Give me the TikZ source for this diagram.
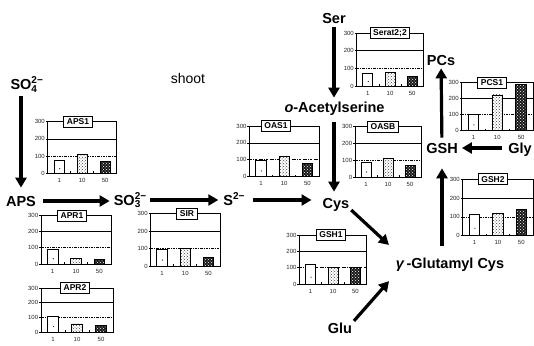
\documentclass[tikz,border=0pt]{standalone}
\usepackage{fontspec}
\setmainfont{Liberation Sans}
\usetikzlibrary{arrows.meta,patterns}
\tikzset{
  mainlbl/.style={font=\fontsize{14.5}{16}\selectfont\bfseries, inner sep=1pt, text height=10.3pt, text depth=0pt},
  flow/.style={line width=3.2pt, -{Triangle[width=11pt,length=10pt]}, shorten <=3pt, shorten >=3pt},
  chartline/.style={line width=0.75pt},
  ticklab/.style={font=\fontsize{6}{7}\selectfont, inner sep=0.5pt, text=black!85},
  charttitle/.style={draw, line width=0.85pt, fill=white, font=\fontsize{8.5}{9}\selectfont\bfseries, inner xsep=3pt, inner ysep=1.5pt, minimum height=11pt},
}
\newcommand{\scr}[1]{{\fontsize{10}{10}\selectfont #1}}
\newcommand{\ionsc}[3]{#1\makebox[0pt][l]{\raisebox{-2.6pt}{\scr{#2}}}\raisebox{6pt}{\scr{#3}}}
\newcommand{\mychart}[9]{%
  \pgfmathsetmacro\cL{#1}\pgfmathsetmacro\cR{#2}%
  \pgfmathsetmacro\cB{#3}\pgfmathsetmacro\cT{#4}%
  \pgfmathsetmacro\cW{\cR-\cL}\pgfmathsetmacro\cU{(\cB-\cT)/300}%
  \pgfmathsetmacro\bw{0.15*\cW}%
  \pgfmathsetmacro\xa{\cL+\cW/6}\pgfmathsetmacro\xb{\cL+\cW/2}\pgfmathsetmacro\xc{\cL+5*\cW/6}%
  \draw[chartline] (\cL,{\cB-200*\cU}) -- (\cR,{\cB-200*\cU});
  \draw[chartline, dash pattern=on 2.5pt off 1.2pt on 0.6pt off 1.2pt] (\cL,{\cB-100*\cU}) -- (\cR,{\cB-100*\cU});
  \draw[chartline, fill=white] ({\xa-\bw/2},\cB) rectangle ({\xa+\bw/2},{\cB-#7*\cU});
  \fill ({\xa+0.5},{\cB-#7*\cU*0.35}) circle (0.6);
  \fill[white] ({\xb-\bw/2},\cB) rectangle ({\xb+\bw/2},{\cB-#8*\cU});
  \fill[pattern=crosshatch dots, pattern color=black!75] ({\xb-\bw/2},\cB) rectangle ({\xb+\bw/2},{\cB-#8*\cU});
  \draw[chartline] ({\xb-\bw/2},\cB) rectangle ({\xb+\bw/2},{\cB-#8*\cU});
  \fill[black!90] ({\xc-\bw/2},\cB) rectangle ({\xc+\bw/2},{\cB-#9*\cU});
  \fill[pattern=crosshatch dots, pattern color=white] ({\xc-\bw/2},\cB) rectangle ({\xc+\bw/2},{\cB-#9*\cU});
  \draw[chartline] ({\xc-\bw/2},\cB) rectangle ({\xc+\bw/2},{\cB-#9*\cU});
  \draw[chartline] (\cL,\cT) rectangle (\cR,\cB);
  \foreach \k in {0,100,200,300} {\draw[chartline] (\cL,{\cB-\k*\cU}) -- ++(-2,0) node[left,ticklab] {\k};}
  \draw[chartline] ({\cL+\cW/3},\cB) -- ++(0,-2);
  \draw[chartline] ({\cL+2*\cW/3},\cB) -- ++(0,-2);
  \node[ticklab] at (\xa,{\cB+7}) {1};
  \node[ticklab] at (\xb,{\cB+7}) {10};
  \node[ticklab] at (\xc,{\cB+7}) {50};
  \node[charttitle] (t#6) at (#6,\cT) {#5};
}
\begin{document}
\begin{tikzpicture}[x=1pt,y=-1pt]
\useasboundingbox (0,0) rectangle (534,345);
\fill[white] (0,0) rectangle (534,345);

% charts: L, R, B, T, title, titleX, v1, v2, v3
\mychart{47.7}{116.7}{173.3}{121.7}{APS1}{78}{77}{109}{72}
\mychart{41}{111}{264}{215.5}{APR1}{72}{93}{35}{30}
\mychart{41}{113}{332}{288}{APR2}{75}{105}{55}{45}
\mychart{150.5}{220}{266}{213.5}{SIR}{187}{97}{98}{50}
\mychart{249.3}{319}{176.7}{126}{OAS1}{276}{97}{122}{80}
\mychart{355}{421}{177}{126.5}{OASB}{383}{85}{112}{72}
\mychart{356.7}{423.3}{86}{33.3}{Serat2;2}{390}{72}{75}{52}
\mychart{461.5}{533}{130.5}{82.5}{PCS1}{492}{100}{222}{287}
\mychart{462.7}{533}{235.7}{179.3}{GSH2}{493}{114}{118}{138}
\mychart{299.3}{366.7}{284.3}{235}{GSH1}{331}{124}{100}{100}

% labels
\node[font=\fontsize{14}{16}\selectfont] (shoot) at (188,78) {shoot};
\node[mainlbl] (so4) at (21,84) {SO\rlap{\makebox[0pt][l]{\raisebox{-3.5pt}{\scr{4}}}\raisebox{6pt}{\scr{2−}}}};
\node[mainlbl] (aps) at (21,201) {APS};
\node[mainlbl] (so3) at (130,200) {\ionsc{SO}{3}{2−}};
\node[mainlbl] (s2) at (234,200) {S\raisebox{6pt}{\scr{2−}}};
\node[mainlbl] (cys) at (336,203) {Cys};
\node[mainlbl] (ser) at (334,18) {Ser};
\node[mainlbl] (oas) at (334.5,107) {\textit{o}-Acetylserine};
\node[mainlbl] (gglu) at (450,263) {\textit{γ}\hspace{2pt}-Glutamyl Cys};
\node[mainlbl] (glu) at (340,328) {Glu};
\node[mainlbl] (gsh) at (442,148) {GSH};
\node[mainlbl] (gly) at (520,148) {Gly};
\node[mainlbl] (pcs) at (441,60) {PCs};

% connectors
\draw[flow, shorten <=6pt, shorten >=7pt] (so4) -- (aps);
\draw[flow, shorten <=6pt, shorten >=3pt] (aps.east) -- (aps.east -| so3.west);
\draw[flow, shorten <=3pt, shorten >=4pt] (so3) -- (s2);
\draw[flow, shorten <=7pt, shorten >=10pt] (s2.east) -- (s2.east -| cys.west);
\draw[flow] (ser) -- (ser |- oas.north);
\draw[flow, shorten <=9pt, shorten >=5pt] (ser |- oas.south) -- (ser |- cys.north);
\draw[flow, shorten <=1pt, shorten >=1pt] (cys.south east) -- ([shift={(-5,-11)}]gglu.north west);
\draw[flow, shorten <=1pt, shorten >=1pt] (glu.north east) -- ([shift={(-5,11)}]gglu.south west);
\draw[flow, shorten <=11pt, shorten >=14pt] (gglu.north -| gsh) -- (gsh);
\draw[flow, shorten <=5pt, shorten >=3pt] (gly) -- (gsh);
\draw[flow, shorten <=4pt, shorten >=2pt] (gsh) -- (pcs);
\end{tikzpicture}
\end{document}
